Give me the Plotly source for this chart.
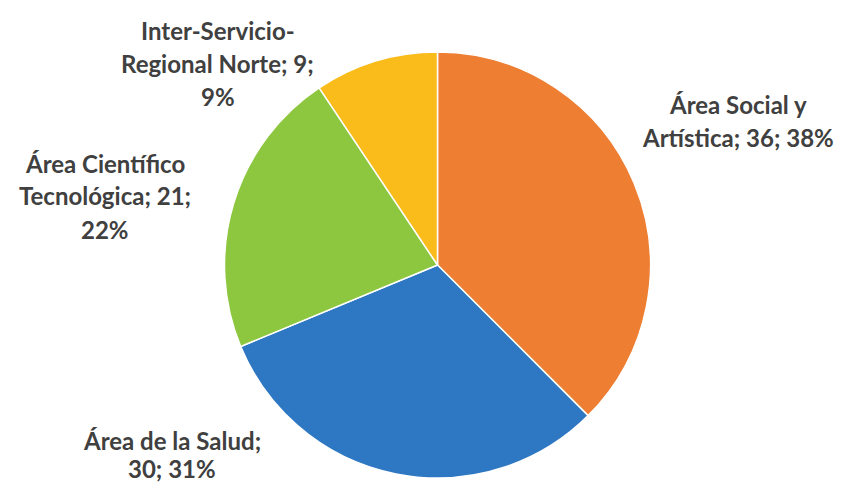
import plotly.graph_objects as go

categories = ["Área Social y Artística", "Área de la Salud", "Área Científico Tecnológica", "Inter-Servicio-Regional Norte"]
values = [36, 30, 21, 9]
colors = ["#EE7E32", "#2E77C2", "#8DC63F", "#F9BC1A"]

# label line wrapping (as in the reference) and label anchor positions (pixels)
wraps = [
    ["Área Social y", "Artística; {v}; {p}%"],
    ["Área de la Salud;", "{v}; {p}%"],
    ["Área Científico", "Tecnológica; {v};", "{p}%"],
    ["Inter-Servicio-", "Regional Norte; {v};", "{p}%"],
]
label_pos = [(738, 104), (172, 440), (105, 163), (218, 30)]
line_step = [33, 28, 33, 33]

W, H = 841, 486
total = sum(values)
pcts = [round(v * 100 / total) for v in values]

fig = go.Figure(go.Pie(
    labels=categories,
    values=values,
    sort=False,
    direction="clockwise",
    rotation=0,
    marker=dict(colors=colors, line=dict(color="white", width=1.5)),
    textinfo="none",
    hoverinfo="label+value+percent",
    domain=dict(x=[224 / W, 651 / W], y=[8 / H, 434 / H]),
    showlegend=False,
))

annotations = []
for lines, (cx, cy), step, v, p in zip(wraps, label_pos, line_step, values, pcts):
    for i, ln in enumerate(lines):
        annotations.append(dict(
            x=cx / W, y=1 - (cy + i * step) / H,
            xref="paper", yref="paper",
            text=ln.format(v=v, p=p),
            showarrow=False,
            xanchor="center", yanchor="middle",
            font=dict(family="Lato", size=24, color="#404040", weight="bold"),
        ))

fig.update_layout(
    width=W, height=H,
    margin=dict(l=0, r=0, t=0, b=0),
    paper_bgcolor="white",
    plot_bgcolor="white",
    annotations=annotations,
)

fig.write_html("out.html", config={"displayModeBar": False},
               post_script="document.body.style.margin='0';")
